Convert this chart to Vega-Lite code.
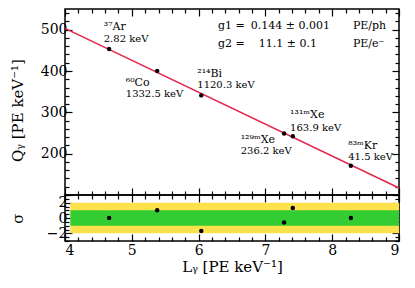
{
  "$schema": "https://vega.github.io/schema/vega-lite/v6.json",
  "padding": {"left": 9, "top": 7, "right": 5, "bottom": 5},
  "config": {
    "font": "DejaVu Serif",
    "view": {"stroke": "black", "strokeWidth": 1.5},
    "axis": {"domain": false, "grid": false, "ticks": true, "tickColor": "black", "tickOpacity": 1, "labelColor": "black", "titleColor": "black", "labelFont": "DejaVu Serif", "titleFont": "DejaVu Serif", "labelFontSize": 14, "titleFontSize": 15, "titleFontWeight": "normal", "tickWidth": 1.2, "format": "d", "minExtent": 0}
  },
  "datasets": {
    "pts": [
      {"L": 4.66, "Q": 453, "res": 0.0},
      {"L": 5.38, "Q": 400, "res": 1.0},
      {"L": 6.04, "Q": 341, "res": -1.7},
      {"L": 7.28, "Q": 249, "res": -0.6},
      {"L": 7.41, "Q": 242, "res": 1.3},
      {"L": 8.28, "Q": 171, "res": 0.0}
    ],
    "fit": [{"L": 4, "Q": 503}, {"L": 9, "Q": 117}],
    "names": [
      {"x": 4.58, "y": 506, "t": "³⁷Ar"},
      {"x": 4.91, "y": 371, "t": "⁶⁰Co"},
      {"x": 5.98, "y": 393, "t": "²¹⁴Bi"},
      {"x": 7.37, "y": 293, "t": "¹³¹ᵐXe"},
      {"x": 6.63, "y": 234, "t": "¹²⁹ᵐXe"},
      {"x": 8.24, "y": 219, "t": "⁸³ᵐKr"}
    ],
    "energies": [
      {"x": 4.58, "y": 478, "t": "2.82 keV"},
      {"x": 4.91, "y": 344, "t": "1332.5 keV"},
      {"x": 5.98, "y": 366, "t": "1120.3 keV"},
      {"x": 7.37, "y": 263, "t": "163.9 keV"},
      {"x": 6.63, "y": 207, "t": "236.2 keV"},
      {"x": 8.24, "y": 193, "t": "41.5 keV"}
    ],
    "gains": [
      {"x": 6.29, "y": 510, "t": "g1 ="},
      {"x": 6.29, "y": 466, "t": "g2 ="},
      {"x": 6.78, "y": 510, "t": "0.144 ± 0.001"},
      {"x": 6.9, "y": 466, "t": "11.1 ± 0.1"},
      {"x": 8.31, "y": 510, "t": "PE/ph"},
      {"x": 8.31, "y": 466, "t": "PE/e⁻"}
    ],
    "bands": [
      {"x1": 4.08, "x2": 9, "lo": -2, "hi": 2, "b": "2σ"},
      {"x1": 4.08, "x2": 9, "lo": -1, "hi": 1, "b": "1σ"}
    ]
  },
  "vconcat": [
    {
      "width": 334,
      "height": 186,
      "layer": [
        {
          "data": {"name": "fit"},
          "mark": {"type": "line", "color": "#e3264c", "strokeWidth": 1.5},
          "encoding": {
            "x": {"field": "L", "type": "quantitative", "scale": {"domain": [4, 9], "nice": false},
              "axis": {"orient": "bottom", "title": null, "labels": false, "values": [4,4.2,4.4,4.6,4.8,5,5.2,5.4,5.6,5.8,6,6.2,6.4,6.6,6.8,7,7.2,7.4,7.6,7.8,8,8.2,8.4,8.6,8.8,9],
                "tickSize": {"condition": {"test": "abs(datum.value - round(datum.value)) < 0.001", "value": -7}, "value": -4}}},
            "y": {"field": "Q", "type": "quantitative", "scale": {"domain": [100, 550], "nice": false, "zero": false},
              "axis": {"orient": "left", "title": "Qᵧ [PE keV⁻¹]", "titleX": -48, "titleY": 101, "titleBaseline": "middle",
                "values": [100,120,140,160,180,200,220,240,260,280,300,320,340,360,380,400,420,440,460,480,500,520,540],
                "labelExpr": "datum.value % 100 === 0 && datum.value > 100 ? datum.label : ''", "labelPadding": 5,
                "tickSize": {"condition": {"test": "datum.value % 100 === 0", "value": -7}, "value": -4}}}
          }
        },
        {
          "data": {"name": "pts"},
          "mark": {"type": "circle", "color": "black", "size": 20, "opacity": 1},
          "encoding": {
            "x": {"field": "L", "type": "quantitative",
              "axis": {"orient": "top", "title": null, "labels": false, "values": [4,4.2,4.4,4.6,4.8,5,5.2,5.4,5.6,5.8,6,6.2,6.4,6.6,6.8,7,7.2,7.4,7.6,7.8,8,8.2,8.4,8.6,8.8,9],
                "tickSize": {"condition": {"test": "abs(datum.value - round(datum.value)) < 0.001", "value": -7}, "value": -4}}},
            "y": {"field": "Q", "type": "quantitative",
              "axis": {"orient": "right", "title": null, "labels": false,
                "values": [100,120,140,160,180,200,220,240,260,280,300,320,340,360,380,400,420,440,460,480,500,520,540],
                "tickSize": {"condition": {"test": "datum.value % 100 === 0", "value": -7}, "value": -4}}}
          }
        },
        {
          "data": {"name": "names"},
          "mark": {"type": "text", "align": "left", "baseline": "middle", "fontSize": 11, "color": "black"},
          "encoding": {
            "x": {"field": "x", "type": "quantitative", "axis": null},
            "y": {"field": "y", "type": "quantitative", "axis": null},
            "text": {"field": "t"}
          }
        },
        {
          "data": {"name": "energies"},
          "mark": {"type": "text", "align": "left", "baseline": "middle", "fontSize": 10, "color": "black"},
          "encoding": {
            "x": {"field": "x", "type": "quantitative", "axis": null},
            "y": {"field": "y", "type": "quantitative", "axis": null},
            "text": {"field": "t"}
          }
        },
        {
          "data": {"name": "gains"},
          "mark": {"type": "text", "align": "left", "baseline": "middle", "fontSize": 11, "color": "black"},
          "encoding": {
            "x": {"field": "x", "type": "quantitative", "axis": null},
            "y": {"field": "y", "type": "quantitative", "axis": null},
            "text": {"field": "t"}
          }
        }
      ]
    },
    {
      "width": 334,
      "height": 46,
      "layer": [
        {
          "data": {"name": "bands"},
          "mark": {"type": "rect"},
          "encoding": {
            "x": {"field": "x1", "type": "quantitative", "scale": {"domain": [4, 9], "nice": false},
              "axis": {"orient": "bottom", "title": "Lᵧ [PE keV⁻¹]", "titlePadding": 2, "labelPadding": 9, "values": [4,4.2,4.4,4.6,4.8,5,5.2,5.4,5.6,5.8,6,6.2,6.4,6.6,6.8,7,7.2,7.4,7.6,7.8,8,8.2,8.4,8.6,8.8,9],
                "labelExpr": "abs(datum.value - round(datum.value)) < 0.001 ? datum.label : ''",
                "tickSize": {"condition": {"test": "abs(datum.value - round(datum.value)) < 0.001", "value": -7}, "value": -4}}},
            "x2": {"field": "x2"},
            "y": {"field": "lo", "type": "quantitative", "scale": {"domain": [-3, 3], "nice": false},
              "axis": {"orient": "left", "title": "σ", "titleX": -48, "titleBaseline": "middle", "labelPadding": 5,
                "values": [-3,-2.5,-2,-1.5,-1,-0.5,0,0.5,1,1.5,2,2.5,3],
                "labelExpr": "datum.value === 2 || datum.value === 0 || datum.value === -2 ? datum.label : ''",
                "tickSize": {"condition": {"test": "datum.value === 2 || datum.value === 0 || datum.value === -2", "value": -7}, "value": -4}}},
            "y2": {"field": "hi"},
            "color": {"field": "b", "type": "nominal", "scale": {"domain": ["2σ", "1σ"], "range": ["#fde14b", "#33cc33"]}, "legend": null}
          }
        },
        {
          "mark": {"type": "rule", "color": "black", "strokeDash": [4, 3], "strokeWidth": 1},
          "encoding": {"y": {"datum": 0, "axis": null}}
        },
        {
          "data": {"name": "pts"},
          "mark": {"type": "circle", "color": "black", "size": 20, "opacity": 1},
          "encoding": {
            "x": {"field": "L", "type": "quantitative",
              "axis": {"orient": "top", "title": null, "labels": false, "values": [4,4.2,4.4,4.6,4.8,5,5.2,5.4,5.6,5.8,6,6.2,6.4,6.6,6.8,7,7.2,7.4,7.6,7.8,8,8.2,8.4,8.6,8.8,9],
                "tickSize": {"condition": {"test": "abs(datum.value - round(datum.value)) < 0.001", "value": -7}, "value": -4}}},
            "y": {"field": "res", "type": "quantitative",
              "axis": {"orient": "right", "title": null, "labels": false,
                "values": [-3,-2.5,-2,-1.5,-1,-0.5,0,0.5,1,1.5,2,2.5,3],
                "tickSize": {"condition": {"test": "datum.value === 2 || datum.value === 0 || datum.value === -2", "value": -7}, "value": -4}}}
          }
        }
      ]
    }
  ],
  "spacing": 0,
  "align": "all",
  "bounds": "flush"
}
